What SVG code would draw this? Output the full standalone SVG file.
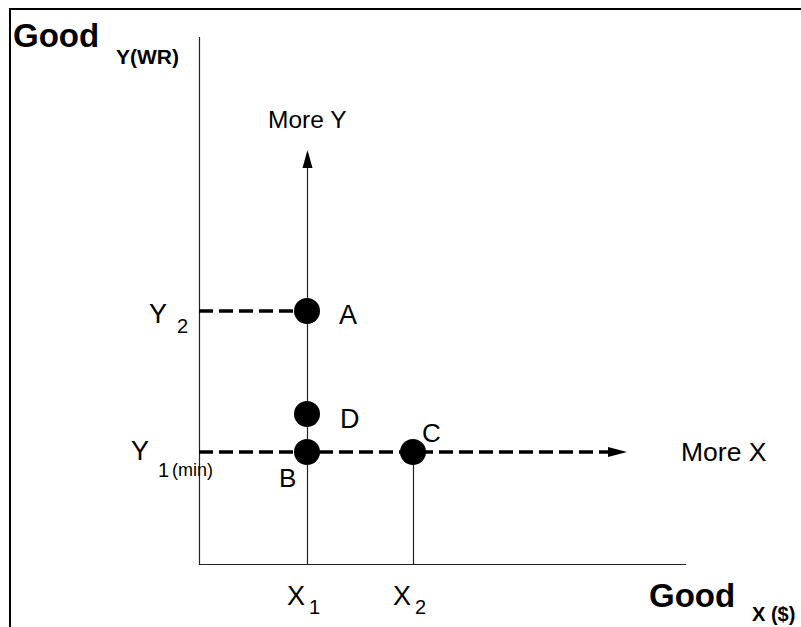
<svg xmlns="http://www.w3.org/2000/svg" width="801" height="627" viewBox="0 0 801 627">
<style>
text{font-family:"Liberation Sans",Arial,sans-serif;fill:#000}
.t{font-size:27px}
.s{font-size:20px}
.b{font-weight:bold}
.ax{stroke:#222;stroke-width:1.2;fill:none}
.dash{stroke:#000;stroke-width:3.5;stroke-dasharray:14,6;fill:none}
.dot{fill:#000}
</style>
<g id="frame">
<path d="M10,627 V9 H801" stroke="#000" stroke-width="2" fill="none"/>
</g>
<g id="connectors">
<path class="ax" d="M199.5,37 V564.5 H686"/>
<path class="ax" d="M307.5,564 V168"/>
<path d="M302.5,168 L307.5,150 L312.5,168 Z" fill="#000"/>
<path class="ax" d="M413.5,564 V452"/>
<path class="dash" d="M199,311 H307"/>
<path class="dash" d="M199,452 H609"/>
<path d="M608,447 L627,452 L608,457 Z" fill="#000"/>
</g>
<g id="A"><circle class="dot" cx="307" cy="311" r="13"/><text class="t" x="339" y="324">A</text></g>
<g id="D"><circle class="dot" cx="307" cy="414" r="13"/><text class="t" x="340" y="428">D</text></g>
<g id="B"><circle class="dot" cx="307" cy="452" r="13"/><text font-size="26" x="279" y="487">B</text></g>
<g id="C"><circle class="dot" cx="413" cy="452" r="13"/><text font-size="26" x="422" y="442">C</text></g>
<g id="labels">
<text class="b" x="13" y="47" font-size="33">Good</text>
<text class="b" x="116" y="64" font-size="21">Y(WR)</text>
<text x="268" y="128" font-size="24.5">More Y</text>
<text x="681" y="461" font-size="26.5">More X</text>
<text class="t" x="149" y="323">Y</text>
<text class="s" x="177" y="333">2</text>
<text class="t" x="131" y="460">Y</text>
<text class="s" x="158" y="477">1</text>
<text x="172" y="476" font-size="18">(min)</text>
<text class="t" x="287" y="605">X</text>
<text class="s" x="309" y="614">1</text>
<text class="t" x="393" y="605">X</text>
<text class="s" x="415" y="614">2</text>
<text class="b" x="649" y="607" font-size="33">Good</text>
<text class="b" x="752" y="621" font-size="20">X ($)</text>
</g>
</svg>
